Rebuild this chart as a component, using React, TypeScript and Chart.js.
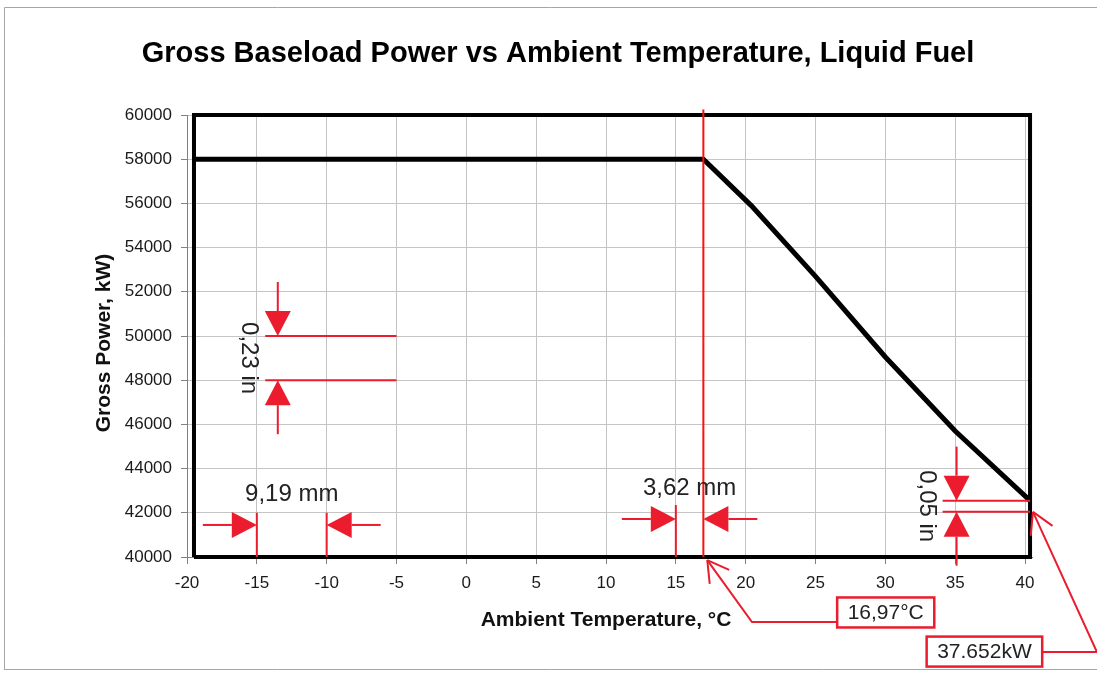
import React, { useEffect, useRef } from 'react';
import { Chart, registerables } from 'chart.js';

Chart.register(...registerables);

const FONT = "'Liberation Sans', Arial, Helvetica, sans-serif";

// ---- texts ----
const chartTitle = 'Gross Baseload Power vs Ambient Temperature, Liquid Fuel';
const xAxisTitle = 'Ambient Temperature, °C';
const yAxisTitle = 'Gross Power, kW)';

// ---- ticks ----
const xTickValues = [-20, -15, -10, -5, 0, 5, 10, 15, 20, 25, 30, 35, 40];
const yTickValues = [40000, 42000, 44000, 46000, 48000, 50000, 52000, 54000, 56000, 58000, 60000];

// ---- series: gross power vs ambient temperature ----
const ambientTemp = [-19.5, 16.97, 20.4, 25, 30, 35, 40.36];
const grossPower = [58000, 58000, 55900, 52700, 49050, 45700, 42550];

// ---- plot frame (thick outline) ----
const frameTemp = [-19.5, -19.5, 40.36, 40.36, -19.5];
const framePower = [40000, 60000, 60000, 40000, 40000];

// ---- red marker line ----
const markerTemp = 16.97;
const markerPowerRange = [40000, 60250];

// ---- dimension annotations (in data units) ----
const xDimensions = [
  { label: '9,19 mm', from: -15, to: -10, extTop: 42000, arrowY: 41450, labelY: 42520, drawToLine: true },
  { label: '3,62 mm', from: 15, to: 16.97, extTop: 42350, arrowY: 41720, labelY: 42800, drawToLine: false },
];
const yDimensions = [
  { label: '0,23 in', from: 50000, to: 48000, extLeft: -14.4, extRight: -5, arrowX: -13.5, labelX: -16.08 },
  { label: '0,05 in', from: 42550, to: 42050, extLeft: 34.1, extRight: 40.36, arrowX: 35.1, labelX: 32.45 },
];

// ---- callouts ----
const callouts = [
  { label: '16,97°C', tip: [17.25, 39860], elbow: [20.45, 37060], boxEdge: 26.55, side: 'left', boxY: 37490 },
  { label: '37.652kW', tip: [40.57, 42040], elbow: [45.15, 35700], boxEdge: 41.23, side: 'right', boxY: 35720 },
];

const RED = '#ea1c2e';
const MARKER_RED = '#ff1010';
const TEXT = '#222222';

function filledArrow(ctx: CanvasRenderingContext2D, tx: number, ty: number, dx: number, dy: number) {
  const headLen = 25;
  const halfW = 13;
  const total = 54;
  const bx = tx - dx * headLen;
  const by = ty - dy * headLen;
  const nx = -dy;
  const ny = dx;
  ctx.beginPath();
  ctx.moveTo(bx, by);
  ctx.lineTo(tx - dx * total, ty - dy * total);
  ctx.stroke();
  ctx.beginPath();
  ctx.moveTo(tx, ty);
  ctx.lineTo(bx + nx * halfW, by + ny * halfW);
  ctx.lineTo(bx - nx * halfW, by - ny * halfW);
  ctx.closePath();
  ctx.fill();
}

const decorPlugin = {
  id: 'decor',
  beforeDraw(chart: any) {
    const ctx: CanvasRenderingContext2D = chart.ctx;
    ctx.save();
    ctx.strokeStyle = '#a6a6a6';
    ctx.lineWidth = 1;
    ctx.beginPath();
    ctx.moveTo(4.5, 670);
    ctx.lineTo(4.5, 7.5);
    ctx.lineTo(1097, 7.5);
    ctx.moveTo(4, 669.5);
    ctx.lineTo(1097, 669.5);
    ctx.stroke();
    ctx.restore();
  },
  afterDatasetsDraw(chart: any) {
    const ctx: CanvasRenderingContext2D = chart.ctx;
    const xs = chart.scales.x;
    const ys = chart.scales.y;
    const px = (v: number) => xs.getPixelForValue(v);
    const py = (v: number) => ys.getPixelForValue(v);
    ctx.save();

    // marker line
    ctx.strokeStyle = MARKER_RED;
    ctx.lineWidth = 2;
    ctx.beginPath();
    ctx.moveTo(px(markerTemp), py(markerPowerRange[1]));
    ctx.lineTo(px(markerTemp), py(markerPowerRange[0]));
    ctx.stroke();

    ctx.strokeStyle = RED;
    ctx.fillStyle = RED;
    ctx.lineWidth = 2;

    // horizontal distance dimensions
    for (const d of xDimensions) {
      const x1 = px(d.from);
      const x2 = px(d.to);
      ctx.strokeStyle = RED;
      ctx.fillStyle = RED;
      ctx.beginPath();
      ctx.moveTo(x1, py(d.extTop));
      ctx.lineTo(x1, py(40000));
      if (d.drawToLine) {
        ctx.moveTo(x2, py(d.extTop));
        ctx.lineTo(x2, py(40000));
      }
      ctx.stroke();
      filledArrow(ctx, x1, py(d.arrowY), 1, 0);
      filledArrow(ctx, x2, py(d.arrowY), -1, 0);
      ctx.fillStyle = TEXT;
      ctx.font = `24px ${FONT}`;
      ctx.textAlign = 'center';
      ctx.textBaseline = 'alphabetic';
      ctx.fillText(d.label, px((d.from + d.to) / 2), py(d.labelY));
    }

    // vertical distance dimensions
    for (const d of yDimensions) {
      const y1 = py(d.from);
      const y2 = py(d.to);
      ctx.strokeStyle = RED;
      ctx.fillStyle = RED;
      ctx.beginPath();
      ctx.moveTo(px(d.extLeft), y1);
      ctx.lineTo(px(d.extRight), y1);
      ctx.moveTo(px(d.extLeft), y2);
      ctx.lineTo(px(d.extRight), y2);
      ctx.stroke();
      filledArrow(ctx, px(d.arrowX), y1, 0, 1);
      filledArrow(ctx, px(d.arrowX), y2, 0, -1);
      ctx.save();
      ctx.translate(px(d.labelX), (y1 + y2) / 2);
      ctx.rotate(Math.PI / 2);
      ctx.fillStyle = TEXT;
      ctx.font = `24px ${FONT}`;
      ctx.textAlign = 'center';
      ctx.textBaseline = 'alphabetic';
      ctx.fillText(d.label, 0, 0);
      ctx.restore();
    }

    // callouts
    for (const c of callouts) {
      const tx = px(c.tip[0]);
      const ty = py(c.tip[1]);
      const ex = px(c.elbow[0]);
      const ey = py(c.elbow[1]);
      const bx = px(c.boxEdge);
      ctx.strokeStyle = RED;
      ctx.lineWidth = 2;
      ctx.beginPath();
      ctx.moveTo(tx, ty);
      ctx.lineTo(ex, ey);
      ctx.lineTo(bx, ey);
      ctx.stroke();
      // open arrowhead
      const len = Math.hypot(ex - tx, ey - ty);
      const ux = (ex - tx) / len;
      const uy = (ey - ty) / len;
      const ang = (30 * Math.PI) / 180;
      for (const s of [-1, 1]) {
        const ca = Math.cos(ang * s);
        const sa = Math.sin(ang * s);
        const rx = ux * ca - uy * sa;
        const ry = ux * sa + uy * ca;
        ctx.beginPath();
        ctx.moveTo(tx, ty);
        ctx.lineTo(tx + rx * 24, ty + ry * 24);
        ctx.stroke();
      }
      // box
      ctx.font = `21px ${FONT}`;
      const tw = ctx.measureText(c.label).width;
      const bw = tw + 21;
      const bh = 30;
      const left = c.side === 'left' ? bx : bx - bw;
      const cy = py(c.boxY);
      ctx.fillStyle = '#ffffff';
      ctx.fillRect(left, cy - bh / 2, bw, bh);
      ctx.lineWidth = 2.5;
      ctx.strokeRect(left, cy - bh / 2, bw, bh);
      ctx.fillStyle = TEXT;
      ctx.textAlign = 'center';
      ctx.textBaseline = 'middle';
      ctx.fillText(c.label, left + bw / 2, cy + 1);
    }
    ctx.restore();
  },
  afterDraw(chart: any) {
    const ctx: CanvasRenderingContext2D = chart.ctx;
    ctx.save();
    ctx.fillStyle = '#000000';
    ctx.textAlign = 'center';
    ctx.textBaseline = 'alphabetic';
    ctx.font = `bold 29px ${FONT}`;
    ctx.fillText(chartTitle, 558, 62);
    ctx.fillStyle = '#111111';
    ctx.font = `bold 21px ${FONT}`;
    ctx.fillText(xAxisTitle, 606, 626);
    ctx.translate(110, 343);
    ctx.rotate(-Math.PI / 2);
    ctx.fillText(yAxisTitle, 0, 0);
    ctx.restore();
  },
};

export default function App() {
  const canvasRef = useRef<HTMLCanvasElement | null>(null);

  useEffect(() => {
    const canvas = canvasRef.current;
    if (!canvas) return;
    const chart = new Chart(canvas, {
      type: 'line',
      data: {
        datasets: [
          {
            label: 'Gross Power',
            data: ambientTemp.map((t, i) => ({ x: t, y: grossPower[i] })),
            borderColor: '#000000',
            borderWidth: 5,
            pointRadius: 0,
            tension: 0,
            fill: false,
            borderJoinStyle: 'miter',
            clip: false as any,
          },
          {
            label: 'Frame',
            data: frameTemp.map((t, i) => ({ x: t, y: framePower[i] })),
            borderColor: '#000000',
            borderWidth: 4,
            pointRadius: 0,
            tension: 0,
            fill: false,
            borderJoinStyle: 'miter',
            clip: false as any,
          },
        ],
      },
      options: {
        responsive: false,
        animation: false,
        devicePixelRatio: 1,
        layout: { padding: { left: 0, top: 115, right: 65, bottom: 0 } },
        plugins: {
          legend: { display: false },
          tooltip: { enabled: false },
          title: { display: false },
        },
        scales: {
          x: {
            type: 'linear',
            min: -20,
            max: 40.5,
            afterBuildTicks: (s: any) => {
              s.ticks = xTickValues.map((v) => ({ value: v }));
            },
            afterFit: (s: any) => {
              s.height = 127;
            },
            ticks: {
              autoSkip: false,
              maxRotation: 0,
              minRotation: 0,
              padding: 9,
              color: '#1a1a1a',
              font: { family: FONT, size: 17 },
              callback: (v: any) => String(v),
            },
            grid: { color: '#c4c4c4', lineWidth: 1, tickLength: 7, tickColor: '#808080', drawTicks: true },
            border: { display: true, color: '#808080', width: 1 },
          },
          y: {
            type: 'linear',
            min: 40000,
            max: 60000,
            afterBuildTicks: (s: any) => {
              s.ticks = yTickValues.map((v) => ({ value: v }));
            },
            afterFit: (s: any) => {
              s.width = 187;
            },
            ticks: {
              autoSkip: false,
              padding: 9,
              color: '#1a1a1a',
              font: { family: FONT, size: 17 },
              callback: (v: any) => String(v),
            },
            grid: { color: '#c4c4c4', lineWidth: 1, tickLength: 6, tickColor: '#808080', drawTicks: true },
            border: { display: true, color: '#808080', width: 1 },
          },
        },
      },
      plugins: [decorPlugin],
    });
    return () => chart.destroy();
  }, []);

  return (
    <div style={{ position: 'fixed', left: 0, top: 0, width: 1097, height: 684, background: '#ffffff' }}>
      <canvas ref={canvasRef} width={1097} height={684} style={{ display: 'block' }} />
    </div>
  );
}
